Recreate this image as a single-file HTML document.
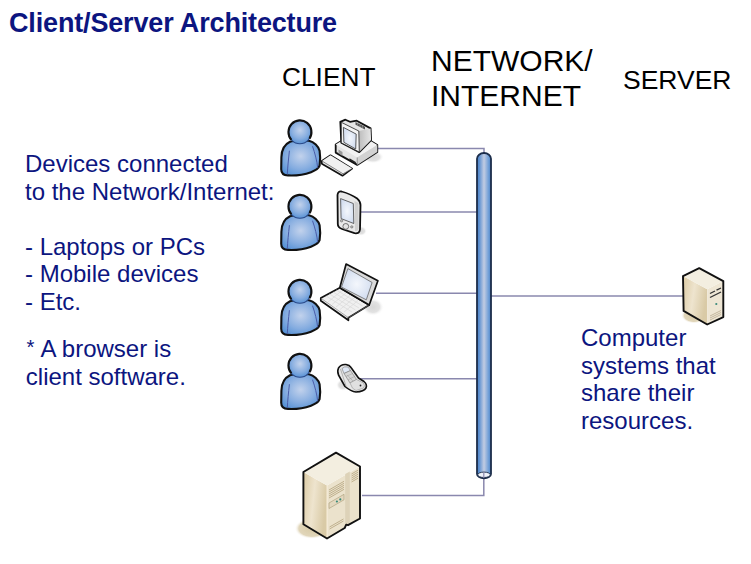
<!DOCTYPE html>
<html><head><meta charset="utf-8">
<style>
html,body{margin:0;padding:0;background:#fff;}
body{width:751px;height:564px;position:relative;overflow:hidden;font-family:"Liberation Sans",sans-serif;}
.t{position:absolute;white-space:pre;line-height:1;}
.blue{color:#0c1580;}
#title{left:9px;top:9.5px;font-size:27px;letter-spacing:-0.16px;font-weight:bold;color:#0c1580;}
.lbl{color:#000;}
svg{position:absolute;left:0;top:0;}
</style></head><body>
<div id="title" class="t">Client/Server Architecture</div>
<div class="t lbl" style="left:282px;top:64px;font-size:26.3px;">CLIENT</div>
<div class="t lbl" style="left:431px;top:42.5px;font-size:30px;line-height:35px;">NETWORK/
INTERNET</div>
<div class="t lbl" style="left:623px;top:66.5px;font-size:26.5px;">SERVER</div>

<div class="t blue" style="left:25px;top:150px;font-size:24px;line-height:27.56px;">Devices connected
to the Network/Internet:

- Laptops or PCs
- Mobile devices
- Etc.</div>
<div class="t blue" style="left:25.8px;top:334.8px;font-size:24px;line-height:28.2px;"><span style="display:inline-block;transform:translate(-0.2px,-0.6px) scale(0.85);transform-origin:50% 30%;">*</span> A browser is
client software.</div>
<div class="t blue" style="left:581px;top:324px;font-size:24px;line-height:27.67px;">Computer
systems that
share their
resources.</div>

<svg width="751" height="564" viewBox="0 0 751 564">
  <defs>
    <linearGradient id="cyl" x1="0" x2="1" y1="0" y2="0">
      <stop offset="0" stop-color="#4d82c6"/>
      <stop offset="0.15" stop-color="#5b8fd0"/>
      <stop offset="0.5" stop-color="#c2cce2"/>
      <stop offset="0.85" stop-color="#6a9bd6"/>
      <stop offset="1" stop-color="#4d82c6"/>
    </linearGradient>
    <radialGradient id="pb" cx="0.5" cy="0.45" r="0.62">
      <stop offset="0" stop-color="#c2d2ec"/>
      <stop offset="0.6" stop-color="#86ade0"/>
      <stop offset="1" stop-color="#5692d6"/>
    </radialGradient>
    <radialGradient id="ph" cx="0.5" cy="0.42" r="0.6">
      <stop offset="0" stop-color="#c2d2ec"/>
      <stop offset="0.6" stop-color="#88aee0"/>
      <stop offset="1" stop-color="#5590d4"/>
    </radialGradient>
    <radialGradient id="scr" cx="0.5" cy="0.5" r="0.7">
      <stop offset="0" stop-color="#f4f7fc"/>
      <stop offset="1" stop-color="#c9d6ec"/>
    </radialGradient>
    <linearGradient id="beigeL" x1="0" x2="1" y1="0" y2="0.3">
      <stop offset="0" stop-color="#dccba4"/>
      <stop offset="0.5" stop-color="#eee4ce"/>
      <stop offset="1" stop-color="#d9caa6"/>
    </linearGradient>
    <linearGradient id="beigeR" x1="0" x2="1" y1="0" y2="0">
      <stop offset="0" stop-color="#e6dcc4"/>
      <stop offset="1" stop-color="#f0e9d8"/>
    </linearGradient>
    <radialGradient id="shg" cx="0.5" cy="0.5" r="0.5">
      <stop offset="0" stop-color="#d8d8d8"/>
      <stop offset="0.6" stop-color="#e2e2e2"/>
      <stop offset="1" stop-color="#ffffff" stop-opacity="0"/>
    </radialGradient>
    <radialGradient id="shb" cx="0.5" cy="0.5" r="0.5">
      <stop offset="0" stop-color="#d8caa6"/>
      <stop offset="0.75" stop-color="#e1d6ba"/>
      <stop offset="1" stop-color="#ffffff" stop-opacity="0"/>
    </radialGradient>
    <linearGradient id="mside" x1="0" x2="1" y1="0" y2="0">
      <stop offset="0" stop-color="#bdbdbd"/>
      <stop offset="1" stop-color="#e6e6e6"/>
    </linearGradient>
    <g id="person">
      <path d="M10,22.6 C5,25 1.6,30 1.4,38 L1.2,50 C1.2,54 3,56 8,56.2 C14,56.5 24,55.5 31,53 C35,51.5 38.5,49.5 39.6,46.5 C40.3,42 40.3,36 39.6,31.5 C38.5,27 34,22.5 29,21.5 C26,21 14,21 10,22.6 Z" fill="url(#pb)" stroke="#111" stroke-width="2.1"/>
      <path d="M9.4,31.5 C8.5,40 7.6,48 7.3,55.3" fill="none" stroke="#4a5ca8" stroke-width="1"/>
      <path d="M32.5,27 C35,34 37,42 37.7,48.6" fill="none" stroke="#4a5ca8" stroke-width="1"/>
      <ellipse cx="19.9" cy="12.9" rx="11.4" ry="11.6" fill="url(#ph)" stroke="#2a4a8a" stroke-width="1.1"/>
      <path d="M11.4,20.7 A11.5,11.7 0 1 1 29.5,19.4" fill="none" stroke="#111" stroke-width="2.1"/>
    </g>
  </defs>
  <g fill="none" stroke="#8a88ae" stroke-width="1.5">
    <polyline points="378,148.4 484,148.4 484,154"/>
    <line x1="361" y1="212" x2="477" y2="212"/>
    <line x1="376" y1="293.3" x2="477" y2="293.3"/>
    <line x1="491" y1="296.1" x2="684" y2="296.1"/>
    <line x1="360" y1="378.8" x2="477" y2="378.8"/>
    <polyline points="362,495.4 483.8,495.4 483.8,476"/>
  </g>
  <!-- cylinder -->
  <path d="M477,158.8 A7,5.8 0 0 1 491,158.8 L491,474 A7,4.3 0 0 1 477,474 Z" fill="url(#cyl)" stroke="#1c2d4a" stroke-width="1.8"/>
  <ellipse cx="484" cy="474.8" rx="6.3" ry="2.7" fill="#eef2fa" stroke="#1c2d4a" stroke-width="0.9"/>
  <line x1="483.8" y1="472.3" x2="483.8" y2="478" stroke="#8a88ae" stroke-width="1.2"/>

  <!-- persons -->
  <use href="#person" x="280" y="119.2"/>
  <use href="#person" x="280" y="193.7"/>
  <use href="#person" x="280" y="278.7"/>
  <use href="#person" x="280" y="352.7"/>

  <!-- desktop computer -->
  <g stroke-linejoin="round">
    <ellipse cx="373" cy="157" rx="11" ry="6.5" fill="url(#shg)"/>
    <polygon points="335.7,144.4 356,132 377.3,144.9 377.3,152.1 357.2,164.9 335.7,152.6" fill="#e4e4e4" stroke="#111" stroke-width="1.8"/>
    <polygon points="335.7,144.4 357.2,157.5 377.3,144.9 356,132" fill="#f2f2f2"/>
    <polygon points="357.2,157.5 377.3,144.9 377.3,152.1 357.2,164.9" fill="#d2d2d2"/>
    <line x1="357.2" y1="157.5" x2="357.2" y2="164.9" stroke="#666" stroke-width="0.6"/>
    <polygon points="338.5,149.5 342.5,152 342.5,156 338.5,153.5" fill="#999"/>
    <polygon points="349.5,158.3 355.8,162 355.8,163.6 349.5,160" fill="#222"/>
    <polygon points="340.3,121.8 345.4,119.7 350,121.8 356.7,120.7 370.6,128.4 371.1,140 359.3,152.1 341.3,142.8" fill="#e6e6e6" stroke="#111" stroke-width="1.8"/>
    <polygon points="358.8,131 370.6,128.4 371.1,140 359.3,152.1" fill="url(#mside)"/>
    <polygon points="341.3,122.3 358.8,131 359.3,152.1 341.3,142.8" fill="#f3f3f3" stroke="#222" stroke-width="0.8"/>
    <polygon points="343.4,127.4 356.2,134.1 355.7,149 343.9,142.3" fill="url(#scr)" stroke="#333" stroke-width="0.8"/>
    <polygon points="355.5,122 365,126.8 365,129.5 355.5,124.7" fill="#555"/>
    <g stroke="#aaa" stroke-width="0.5"><line x1="357.5" y1="123" x2="357.5" y2="125.7"/><line x1="360" y1="124.2" x2="360" y2="127"/><line x1="362.5" y1="125.5" x2="362.5" y2="128.2"/></g>
    <polygon points="330.5,155.2 352.2,168.6 342.5,175.8 321.8,163.8 321.8,160.8" fill="#e6e6e6" stroke="#111" stroke-width="1.6"/>
    <polygon points="330.5,155.2 352.2,168.6 343,173.8 322,161" fill="#f0f0f0"/>
    <polyline points="322,161 343,173.8 352.2,168.6" fill="none" stroke="#555" stroke-width="0.7"/>
  </g>

  <!-- PDA -->
  <g stroke-linejoin="round">
    <ellipse cx="361" cy="231" rx="6" ry="5" fill="url(#shg)"/>
    <path d="M337.5,195 Q337.8,191 341.5,191.5 Q351,194 357.5,198.8 Q360.5,201.5 360.5,205 L360,229.5 Q359.5,234 354.5,233.2 L342,229 Q337.8,227.5 337.8,224 Z" fill="#e9e9e9" stroke="#111" stroke-width="1.8"/>
    <path d="M354.5,201 L358.5,203 L358.5,229 Q358,231.5 355,231 Z" fill="#cfcfcf"/>
    <polygon points="340.6,198.6 353.3,203.5 353.8,223.5 341.1,218.6" fill="url(#scr)" stroke="#444" stroke-width="0.8"/>
    <circle cx="345.8" cy="226.4" r="2.9" fill="#e4e4e4" stroke="#555" stroke-width="0.8"/>
    <circle cx="341.6" cy="220.8" r="1.2" fill="#bbb" stroke="#555" stroke-width="0.5"/>
    <circle cx="351.8" cy="226.9" r="1.2" fill="#bbb" stroke="#555" stroke-width="0.5"/>
  </g>

  <!-- Laptop -->
  <g stroke-linejoin="round">
    <ellipse cx="373" cy="307" rx="11" ry="9" fill="url(#shg)"/>
    <polygon points="320.8,298.1 339.8,287.7 369.2,305 348.4,317.7 348.4,320.3 320.8,300.8" fill="#f0f0f0" stroke="#111" stroke-width="1.7"/>
    <polyline points="320.8,298.1 348.4,317.7 369.2,305" fill="none" stroke="#777" stroke-width="0.6"/>
    <g stroke="#d9d9d9" stroke-width="0.7">
      <line x1="326" y1="296" x2="352" y2="312"/>
      <line x1="329.5" y1="294" x2="355.5" y2="310"/>
      <line x1="333" y1="292" x2="359" y2="308"/>
      <line x1="336.5" y1="290" x2="362.5" y2="306"/>
      <line x1="328" y1="302" x2="342" y2="290.5"/>
      <line x1="332" y1="304.5" x2="346" y2="293"/>
      <line x1="336" y1="307" x2="350" y2="295.5"/>
      <line x1="340" y1="309.5" x2="354" y2="298"/>
      <line x1="344" y1="312" x2="358" y2="300.5"/>
    </g>
    <polygon points="346.1,264 377.9,280.8 369.2,305 339.8,287.7" fill="#dadada" stroke="#111" stroke-width="1.7"/>
    <polygon points="347.9,268.6 372.1,282.5 366.3,299.8 341.5,287.1" fill="url(#scr)" stroke="#555" stroke-width="0.7"/>
  </g>

  <!-- Cell phone -->
  <g stroke-linejoin="round">
    <ellipse cx="343" cy="385" rx="7" ry="6" fill="url(#shg)"/>
    <path d="M338.5,368 Q341,364 346,364.5 Q349.5,365 351,367.5 L358.5,378 L364,381.5 Q367.5,384.5 366,388 Q364,391.5 356,392 Q351,391.5 345,386.5 L338.5,375 Q337,371 338.5,368 Z" fill="#e6e6e6" stroke="#111" stroke-width="1.6"/>
    <path d="M340.5,369 L346,386" fill="none" stroke="#999" stroke-width="0.7"/>
    <path d="M342,368.5 Q344.5,366 348,367 L350.5,370.5 L344,373.5 Z" fill="#dfe8f6" stroke="#777" stroke-width="0.6"/>
    <path d="M344,373.5 L350.5,370.5 L356.5,379.5 L350,383 Z" fill="#d6d6d6" stroke="#777" stroke-width="0.6"/>
    <path d="M346,376.5 L352.5,373.5 M348,379.8 L354.5,376.5 M347.2,375 L353.3,381.3" fill="none" stroke="#999" stroke-width="0.5"/>
    <path d="M350,383 L356.5,379.5 L363.5,383 Q365.5,386 363.5,388 L356,390.5 Q352,389.5 350,383 Z" fill="#e0e0e0" stroke="#888" stroke-width="0.5"/>
    <circle cx="360.5" cy="385.5" r="0.9" fill="#222"/>
  </g>

  <!-- Tower server -->
  <g stroke-linejoin="round">
    <ellipse cx="312" cy="528.5" rx="17.5" ry="10.5" fill="url(#shb)"/>
    <polygon points="303.4,472 327,485.5 327,538.5 303.4,524.2" fill="url(#beigeL)"/>
    <polygon points="327,485.5 360,466.5 360,518.5 348,525 346.2,524.6 344.7,528 327,538.5" fill="#ebe2cc"/>
    <polygon points="303.4,472 336,452.6 360,466.5 327,485.5" fill="#f3eee0"/>
    <polygon points="345.2,474 349.8,471.5 349.8,525 348,525.5 346.2,524.6 345.2,526" fill="#ddd2b8"/>
    <line x1="327" y1="485.5" x2="327" y2="538.5" stroke="#fff6e6" stroke-width="0.8"/>
    <g stroke="#b3a27c" stroke-width="0.8">
      <line x1="329" y1="490" x2="344" y2="481.3"/>
      <line x1="329" y1="492" x2="344" y2="483.3"/>
      <line x1="329" y1="494" x2="344" y2="485.3"/>
      <line x1="329" y1="496" x2="344" y2="487.3"/>
      <line x1="329" y1="498" x2="344" y2="489.3"/>
      <line x1="351.5" y1="474" x2="358" y2="470.2"/>
      <line x1="351.5" y1="476" x2="358" y2="472.2"/>
      <line x1="351.5" y1="478" x2="358" y2="474.2"/>
      <line x1="351.5" y1="480" x2="358" y2="476.2"/>
      <line x1="351.5" y1="482" x2="358" y2="478.2"/>
      <line x1="329.5" y1="527" x2="343.5" y2="519"/>
      <line x1="329.5" y1="529" x2="343.5" y2="521"/>
    </g>
    <polygon points="329,503 344,494.3 344,499.8 329,508.5" fill="#e3d8bf" stroke="#a89a76" stroke-width="0.6"/>
    <circle cx="336.9" cy="501.5" r="1.1" fill="#3a8a7a"/>
    <circle cx="340.3" cy="499.4" r="1.1" fill="#3a8a7a"/>
    <polygon points="303.4,472 336,452.6 360,466.5 360,518.5 348,525.2 346.2,524.6 344.7,528 327,538.5 303.4,524.2" fill="none" stroke="#111" stroke-width="1.9"/>
  </g>

  <!-- small server -->
  <g stroke-linejoin="round">
    <ellipse cx="694" cy="315.5" rx="13" ry="8" fill="url(#shb)"/>
    <polygon points="683,276.1 707.2,289.2 707.2,324.5 683.6,310.9" fill="url(#beigeL)"/>
    <polygon points="707.2,289.2 723.3,281.1 723.3,317.1 707.2,324.5" fill="#eee6d4"/>
    <polygon points="683,276.1 699.2,268.1 723.3,281.1 707.2,289.2" fill="#f3eee0"/>
    <polygon points="683,276.1 699.2,268.1 723.3,281.1 723.3,317.1 707.2,324.5 683.6,310.9" fill="none" stroke="#111" stroke-width="1.9"/>
    <g stroke="#333" stroke-width="1.3">
      <line x1="710" y1="293.5" x2="715" y2="291"/>
      <line x1="716.5" y1="290.2" x2="721" y2="288"/>
      <line x1="710" y1="297.5" x2="721" y2="292"/>
    </g>
    <circle cx="716.3" cy="304" r="1.1" fill="#3a8a7a"/>
    <g stroke="#a8997a" stroke-width="0.6">
      <line x1="710" y1="316" x2="721" y2="310.5"/>
      <line x1="710" y1="318" x2="721" y2="312.5"/>
      <line x1="710" y1="320" x2="721" y2="314.5"/>
    </g>
  </g>
</svg>
</body></html>
